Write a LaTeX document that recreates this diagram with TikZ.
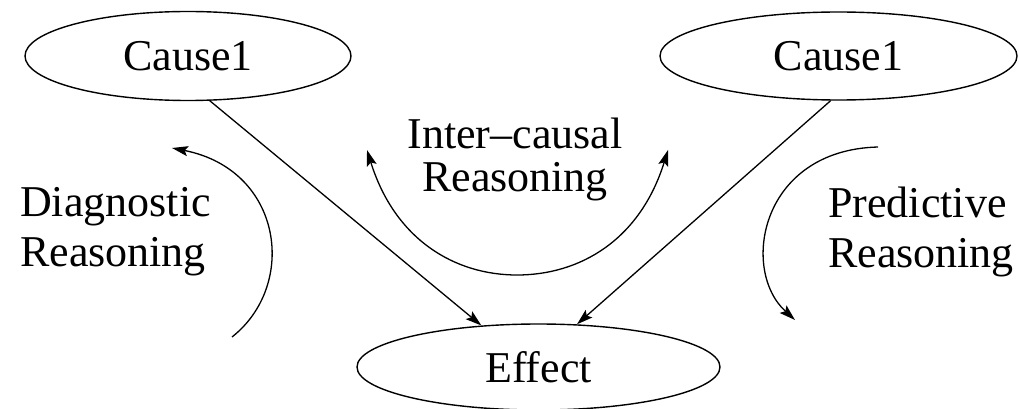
\documentclass[tikz,border=0pt]{standalone}
\usepackage{fontspec}
\setmainfont{Liberation Serif}
\usetikzlibrary{shapes.geometric,arrows.meta}
\tikzset{
  oval/.style={draw, ellipse, line width=1.4pt, inner sep=0pt, font=\fontsize{44}{50}\selectfont},
  lbl/.style={inner sep=0pt, font=\fontsize{44}{50}\selectfont},
  conn/.style={line width=1.3pt, -{Stealth[length=16pt,width=10pt,inset=3pt]}},
  both/.style={line width=1.3pt, {Stealth[length=16pt,width=10pt,inset=3pt]}-{Stealth[length=16pt,width=10pt,inset=3pt]}},
}
\begin{document}
\begin{tikzpicture}[x=1pt,y=-1pt]
\useasboundingbox (0,0) rectangle (1019,409);
\node[oval, minimum width=326pt, minimum height=89pt] (c1) at (188,56) {Cause1};
\node[oval, minimum width=357pt, minimum height=88pt] (c2) at (838.5,56) {Cause1};
\node[oval, minimum width=363pt, minimum height=86pt] (eff) at (538.5,367) {Effect};

\draw[conn] (c1.-64) -- (eff.144);
\draw[conn] (c2.-100) -- (eff.48);

\node[lbl, align=center] (ic) at (515,159) {Inter--causal\\[-7pt]Reasoning};
\node[lbl, align=left, anchor=west] (dr) at (20,232) {Diagnostic\\Reasoning};
\node[lbl, align=left, anchor=west] (pr) at (828,232) {Predictive\\Reasoning};

\coordinate (icl) at (367,150);
\coordinate (icb) at (517,275);
\coordinate (icr) at (668,150);
\draw[both] (icl) .. controls (395,240) and (455,275) .. (icb) .. controls (580,275) and (640,240) .. (icr);

\coordinate (ds) at (232,337);
\coordinate (de) at (172,148);
\draw[conn] (ds) .. controls (298,285) and (283,170) .. (de);

\coordinate (ps) at (878,147);
\coordinate (pe) at (795,320);
\draw[conn] (ps) .. controls (760,150) and (740,270) .. (pe);
\end{tikzpicture}
\end{document}
